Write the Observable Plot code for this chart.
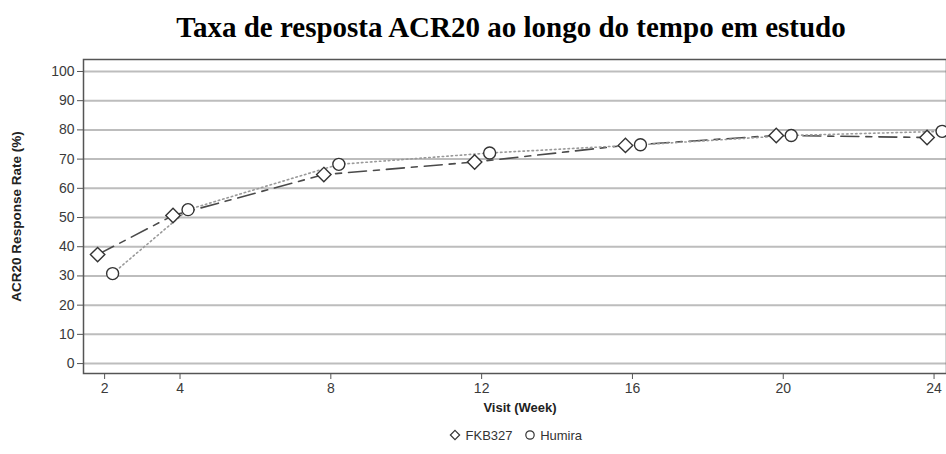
<!DOCTYPE html>
<html>
<head>
<meta charset="utf-8">
<script src="https://cdn.jsdelivr.net/npm/d3@7"></script>
<script src="https://cdn.jsdelivr.net/npm/@observablehq/plot@0.6"></script>
<style>
  html, body { margin: 0; padding: 0; background: #fff; }
  #wrap { position: relative; width: 946px; height: 454px; overflow: hidden; font-family: "Liberation Sans", Arial, sans-serif; }
  #title { position: absolute; left: 0; width: 1022px; top: 11px; text-align: center; font-family: "Liberation Serif", "Times New Roman", serif; font-weight: bold; font-size: 29px; color: #000; white-space: nowrap; }
  #chart { position: absolute; left: 0; top: 50px; }
  #xlabel { position: absolute; left: 0; width: 1040px; top: 400px; text-align: center; font-weight: bold; font-size: 13px; color: #222; }
  #legend { position: absolute; left: 0; width: 1030px; top: 428px; text-align: center; font-size: 13px; color: #333; }
  #legend svg { vertical-align: -2px; }
</style>
</head>
<body>
<div id="wrap">
  <div id="title">Taxa de resposta ACR20 ao longo do tempo em estudo</div>
  <div id="chart"></div>
  <div id="xlabel">Visit (Week)</div>
  <div id="legend"></div>
</div>
<script>
const weeks = [2, 4, 8, 12, 16, 20, 24];
const fkb327 = [37.3, 50.7, 64.7, 69.0, 74.7, 78.1, 77.4];
const humira = [30.8, 52.7, 68.2, 72.1, 74.9, 78.1, 79.5];
const yTicks = [0, 10, 20, 30, 40, 50, 60, 70, 80, 90, 100];
const seriesNames = ["FKB327", "Humira"];

const fkbData = weeks.map((w, i) => ({week: w, value: fkb327[i]}));
const humData = weeks.map((w, i) => ({week: w, value: humira[i]}));

const chart = Plot.plot({
  width: 946,
  height: 348,
  marginLeft: 83,
  marginRight: 0,
  marginTop: 9,
  marginBottom: 25,
  style: {fontFamily: "Liberation Sans, Arial, sans-serif", fontSize: "14px", color: "#333", background: "#fff"},
  x: {domain: [1.44, 24.33]},
  y: {domain: [-3.4, 104.1]},
  marks: [
    Plot.ruleY(yTicks, {stroke: "#bdbdbd", strokeWidth: 2}),
    Plot.frame({stroke: "#555", strokeWidth: 1.5}),
    Plot.axisY({ticks: yTicks, tickSize: 6, tickPadding: 3, label: "ACR20 Response Rate (%)", labelAnchor: "center", labelArrow: "none", labelOffset: 72, stroke: "#555", color: "#3a3a3a", fontSize: 14}),
    Plot.axisX({ticks: weeks, tickSize: 6, tickPadding: 4, label: null, stroke: "#555", color: "#3a3a3a", fontSize: 14}),
    Plot.line(fkbData, {x: "week", y: "value", dx: -7, stroke: "#4a4a4a", strokeWidth: 1.6, strokeDasharray: "18,7,6,7"}),
    Plot.line(humData, {x: "week", y: "value", dx: 8, stroke: "#9a9a9a", strokeWidth: 1.6, strokeDasharray: "1.5,3"}),
    Plot.dot(fkbData, {x: "week", y: "value", dx: -7, symbol: "diamond2", r: 6.5, stroke: "#333", strokeWidth: 1.4, fill: "white"}),
    Plot.dot(humData, {x: "week", y: "value", dx: 8, symbol: "circle", r: 6, stroke: "#333", strokeWidth: 1.4, fill: "white"})
  ]
});
// make only the axis label bold (tick labels stay regular)
chart.querySelectorAll("text").forEach(t => {
  if (t.textContent.trim() === "ACR20 Response Rate (%)") {
    t.setAttribute("font-weight", "bold");
    t.setAttribute("font-size", "13.5");
    t.setAttribute("fill", "#222");
  }
});
document.getElementById("chart").appendChild(chart);

// legend
const leg = document.getElementById("legend");
const symbols = {FKB327: d3.symbolDiamond2, Humira: d3.symbolCircle};
seriesNames.forEach((name, i) => {
  const svg = d3.create("svg").attr("width", 14).attr("height", 14);
  svg.append("path").attr("transform", "translate(7,7)")
    .attr("d", d3.symbol(symbols[name], 55)())
    .attr("fill", "none").attr("stroke", "#333").attr("stroke-width", 1.2);
  const span = document.createElement("span");
  span.style.marginLeft = i ? "10px" : "0";
  span.appendChild(svg.node());
  span.appendChild(document.createTextNode(" " + name));
  leg.appendChild(span);
});
</script>
</body>
</html>
